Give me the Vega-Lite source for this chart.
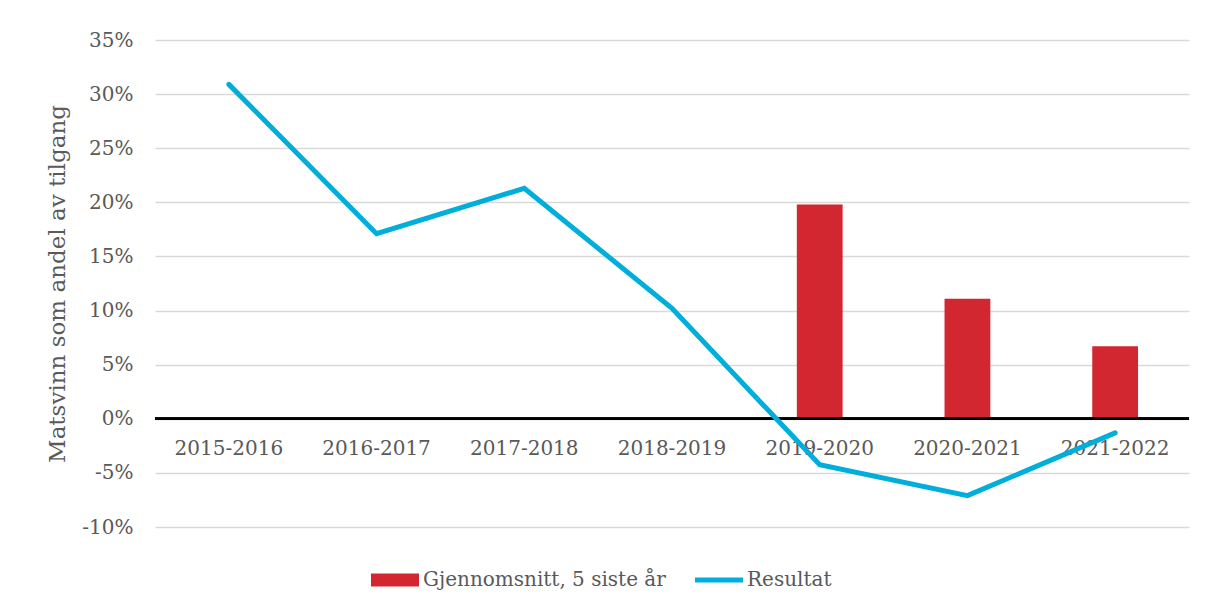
{
  "$schema": "https://vega.github.io/schema/vega-lite/v6.json",
  "autosize": "none",
  "width": 1034,
  "height": 487,
  "padding": {"left": 155, "top": 40, "right": 16, "bottom": 80},
  "background": "white",
  "config": {
    "font": "DejaVu Serif",
    "view": {"stroke": null},
    "axis": {"labelFont": "DejaVu Serif", "titleFont": "DejaVu Serif", "labelColor": "#595959", "titleColor": "#595959"}
  },
  "data": {
    "values": [
      {"periode": "2015-2016", "serie": "Resultat", "verdi": 30.9},
      {"periode": "2016-2017", "serie": "Resultat", "verdi": 17.1},
      {"periode": "2017-2018", "serie": "Resultat", "verdi": 21.3},
      {"periode": "2018-2019", "serie": "Resultat", "verdi": 10.2},
      {"periode": "2019-2020", "serie": "Resultat", "verdi": -4.25},
      {"periode": "2020-2021", "serie": "Resultat", "verdi": -7.1},
      {"periode": "2021-2022", "serie": "Resultat", "verdi": -1.3},
      {"periode": "2019-2020", "serie": "Gjennomsnitt, 5 siste år", "verdi": 19.8},
      {"periode": "2020-2021", "serie": "Gjennomsnitt, 5 siste år", "verdi": 11.1},
      {"periode": "2021-2022", "serie": "Gjennomsnitt, 5 siste år", "verdi": 6.7}
    ]
  },
  "encoding": {
    "x": {
      "field": "periode", "type": "nominal",
      "scale": {"type": "band", "paddingInner": 0, "paddingOuter": 0, "domain": ["2015-2016", "2016-2017", "2017-2018", "2018-2019", "2019-2020", "2020-2021", "2021-2022"]},
      "axis": {"title": null, "labelAngle": 0, "domain": false, "ticks": false, "offset": -108.2, "labelPadding": 20, "labelFontSize": 20, "grid": false}
    },
    "y": {
      "field": "verdi", "type": "quantitative",
      "scale": {"domain": [-10, 35], "nice": false, "zero": false},
      "axis": {
        "title": "Matsvinn som andel av tilgang", "titleFontSize": 23, "titleFontWeight": "normal", "titlePadding": 12,
        "values": [-10, -5, 0, 5, 10, 15, 20, 25, 30, 35],
        "labelExpr": "datum.value + '%'", "labelFontSize": 20, "labelPadding": 22,
        "domain": false, "ticks": false, "grid": true, "gridColor": "#d9d9d9", "gridWidth": 1.5
      }
    },
    "color": {
      "field": "serie", "type": "nominal",
      "scale": {"domain": ["Gjennomsnitt, 5 siste år", "Resultat"], "range": ["#D22630", "#00AEDB"]},
      "legend": {
        "title": null, "orient": "none", "direction": "horizontal", "legendX": 216, "legendY": 516,
        "labelFont": "DejaVu Serif", "labelFontSize": 20, "labelColor": "#595959", "labelOffset": 4, "labelLimit": 0,
        "columnPadding": 29, "symbolSize": 2304, "symbolStrokeWidth": 0,
        "encode": {
          "symbols": {
            "update": {
              "shape": {"signal": "datum.value === 'Resultat' ? 'M-1,-0.1H1V0.1H-1Z' : 'M-1,-0.27H1V0.27H-1Z'"},
              "fill": {"scale": "color", "field": "value"},
              "stroke": {"value": "transparent"},
              "opacity": {"value": 1}
            }
          }
        }
      }
    }
  },
  "layer": [
    {
      "transform": [{"filter": "datum.serie !== 'Resultat'"}],
      "mark": {"type": "bar", "width": {"band": 0.31}}
    },
    {
      "mark": {"type": "rule", "color": "black", "strokeWidth": 2},
      "encoding": {"y": {"datum": 0}, "x": null, "color": null}
    },
    {
      "transform": [{"filter": "datum.serie === 'Resultat'"}],
      "mark": {"type": "line", "strokeWidth": 5, "strokeCap": "round", "strokeJoin": "miter"}
    }
  ]
}
